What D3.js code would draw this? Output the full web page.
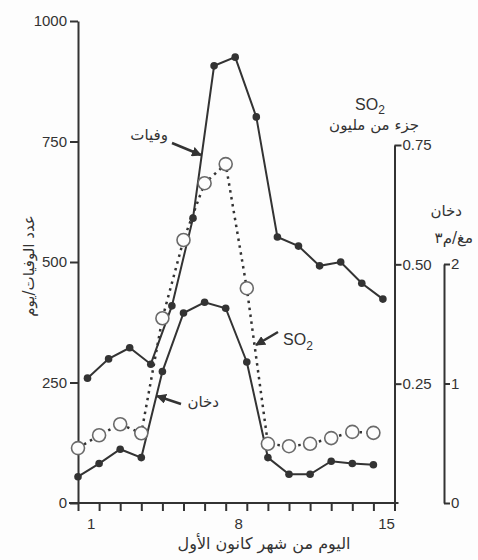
<!DOCTYPE html>
<html><head><meta charset="utf-8">
<script src="https://cdn.jsdelivr.net/npm/d3@7"></script>
<style>
html,body{margin:0;padding:0;background:#fdfdfd;}
svg{display:block;}
text{fill:#333;}
.num{font-family:"Liberation Sans Narrow","Arial Narrow","Liberation Sans",sans-serif;font-size:15px;}
.ar{font-family:"DejaVu Sans","Noto Sans",sans-serif;font-size:15px;}
</style></head><body>
<script>
const days = d3.range(1, 16);
const deaths = [259, 299, 322, 288, 409, 591, 907, 925, 801, 552, 533, 492, 500, 456, 423];
const smoke = [0.22, 0.33, 0.45, 0.38, 1.10, 1.59, 1.68, 1.63, 1.18, 0.38, 0.24, 0.24, 0.35, 0.33, 0.32];
const so2 = [0.115, 0.142, 0.165, 0.146, 0.387, 0.551, 0.670, 0.710, 0.450, 0.124, 0.119, 0.124, 0.136, 0.149, 0.147];
const deathTicks = [0, 250, 500, 750, 1000];
const so2Ticks = [0.25, 0.50, 0.75];
const smokeTicks = [0, 1, 2];
const dayLabels = [1, 8, 15];
const deathOffset = 0.45; // deaths plotted at day centres
const labelOffset = 0.62;

const W = 478, H = 560;
const ink = "#333";
const svg = d3.select("body").append("svg").attr("width", W).attr("height", H);

const x = d3.scaleLinear().domain([1, 16]).range([78, 394.5]);
const yD = d3.scaleLinear().domain([0, 1000]).range([503, 21]);
const yS = d3.scaleLinear().domain([0, 0.75]).range([503, 145]);
const ySm = d3.scaleLinear().domain([0, 2]).range([503, 264]);

function styleAxis(g) {
  g.selectAll("path,line").attr("stroke", ink).attr("stroke-width", 2);
  g.selectAll("text").attr("class", "num").attr("fill", ink);
  g.attr("font-family", null).attr("font-size", null);
}

// left axis
svg.append("g").attr("transform", `translate(${x(1)},0)`)
  .call(d3.axisLeft(yD).tickValues(deathTicks).tickFormat(d3.format("d")).tickSize(8).tickSizeOuter(0).tickPadding(3))
  .call(styleAxis);

// x axis
svg.append("g").attr("transform", `translate(0,${yD(0)})`)
  .call(d3.axisBottom(x).tickValues(d3.range(1, 17)).tickFormat("").tickSize(8).tickSizeOuter(0))
  .call(styleAxis)
  .call(g => g.select(".domain").attr("d", `M${x(1) - 9},0H${x(16) + 4}`));

svg.append("g").selectAll("text").data(dayLabels).join("text")
  .attr("class", "num").attr("x", d => x(d + labelOffset)).attr("y", 529)
  .attr("text-anchor", "middle").text(d => d);

// SO2 axis
svg.append("g").attr("transform", `translate(${x(16)},0)`)
  .call(d3.axisRight(yS).tickValues(so2Ticks).tickFormat(d3.format(".2f")).tickSize(7).tickSizeOuter(0).tickPadding(1))
  .call(styleAxis);

// smoke axis
svg.append("g").attr("transform", `translate(444,0)`)
  .call(d3.axisRight(ySm).tickValues(smokeTicks).tickFormat(d3.format("d")).tickSize(6).tickSizeOuter(0).tickPadding(1))
  .call(styleAxis);

// lines
const lineDeaths = d3.line().x((d, i) => x(days[i] + deathOffset)).y(d => yD(d));
const lineSmoke = d3.line().x((d, i) => x(days[i])).y(d => ySm(d));
const lineSO2 = d3.line().x((d, i) => x(days[i])).y(d => yS(d));

svg.append("path").datum(so2).attr("d", lineSO2).attr("fill", "none")
  .attr("stroke", ink).attr("stroke-width", 2.5).attr("stroke-dasharray", "2.5,4.5");
svg.append("path").datum(smoke).attr("d", lineSmoke).attr("fill", "none")
  .attr("stroke", ink).attr("stroke-width", 2);
svg.append("path").datum(deaths).attr("d", lineDeaths).attr("fill", "none")
  .attr("stroke", ink).attr("stroke-width", 2);

svg.append("g").selectAll("circle").data(smoke).join("circle")
  .attr("cx", (d, i) => x(days[i])).attr("cy", d => ySm(d)).attr("r", 3.8).attr("fill", ink);
svg.append("g").selectAll("circle").data(deaths).join("circle")
  .attr("cx", (d, i) => x(days[i] + deathOffset)).attr("cy", d => yD(d)).attr("r", 3.8).attr("fill", ink);
svg.append("g").selectAll("circle").data(so2).join("circle")
  .attr("cx", (d, i) => x(days[i])).attr("cy", d => yS(d)).attr("r", 6.5)
  .attr("fill", "#fdfdfd").attr("stroke", "#6a6a6a").attr("stroke-width", 1.6);

// arrow marker
svg.append("defs").append("marker").attr("id", "ah").attr("viewBox", "0 0 10 10")
  .attr("refX", 9).attr("refY", 5).attr("markerWidth", 4).attr("markerHeight", 4)
  .attr("orient", "auto").attr("markerUnits", "strokeWidth")
  .append("path").attr("d", "M0,0L10,5L0,10z").attr("fill", ink);

function arrow(x1, y1, x2, y2) {
  svg.append("line").attr("x1", x1).attr("y1", y1).attr("x2", x2).attr("y2", y2)
    .attr("stroke", ink).attr("stroke-width", 2.5).attr("marker-end", "url(#ah)");
}

// annotations
svg.append("text").attr("class", "ar").attr("x", 168).attr("y", 140).attr("text-anchor", "end").text("وفيات");
arrow(172, 143, 201, 155);

const so2Lab = svg.append("text").attr("class", "num").attr("x", 283).attr("y", 345).style("font-size", "16px");
so2Lab.append("tspan").text("SO");
so2Lab.append("tspan").attr("dy", 5).style("font-size", "12px").text("2");
arrow(278, 332, 256, 345);

svg.append("text").attr("class", "ar").attr("x", 219).attr("y", 407).attr("text-anchor", "end").text("دخان");
arrow(181, 404, 157, 396);

// right titles
const so2T = svg.append("text").attr("class", "num").attr("x", 370).attr("y", 110).attr("text-anchor", "middle").style("font-size", "16px");
so2T.append("tspan").text("SO");
so2T.append("tspan").attr("dy", 4).style("font-size", "12px").text("2");
svg.append("text").attr("class", "ar").attr("x", 419).attr("y", 130).attr("text-anchor", "end").text("جزء من مليون");

svg.append("text").attr("class", "ar").attr("x", 462).attr("y", 216).attr("text-anchor", "end").text("دخان");
svg.append("text").attr("class", "ar").attr("x", 473).attr("y", 243).attr("text-anchor", "end").text("مغ/م٣");

// axis titles
svg.append("text").attr("class", "ar").attr("transform", "translate(34,266) rotate(-90)")
  .attr("text-anchor", "middle").text("عدد الوفيات/يوم");
svg.append("text").attr("class", "ar").attr("x", 264).attr("y", 549)
  .attr("text-anchor", "middle").style("font-size", "16px").text("اليوم من شهر كانون الأول");
</script>
</body></html>
